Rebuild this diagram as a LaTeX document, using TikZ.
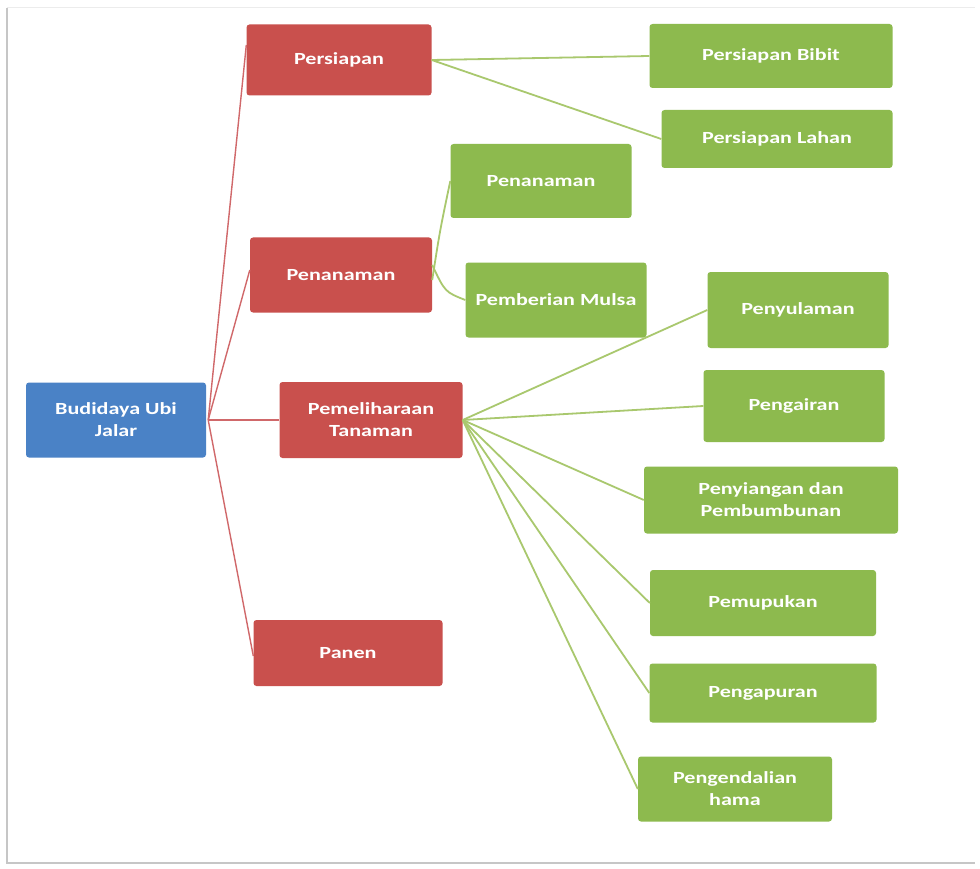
\documentclass[tikz,border=0pt]{standalone}
\usepackage{fontspec}
\setmainfont{Carlito}[FakeStretch=1.3]
\definecolor{ofred}{HTML}{C9504D}
\definecolor{ofgreen}{HTML}{8DBA4E}
\definecolor{ofblue}{HTML}{4A82C6}
\definecolor{redline}{HTML}{D0686A}
\definecolor{greenline}{HTML}{A9C86E}
\begin{document}
\begin{tikzpicture}[x=1pt,y=-1pt,
  box/.style={rectangle, rounded corners=3pt, text=white, align=center, inner sep=2pt, font=\fontsize{17}{22}\selectfont\bfseries},
  rbox/.style={box, fill=ofred},
  gbox/.style={box, fill=ofgreen},
  bbox/.style={box, fill=ofblue},
  rl/.style={draw=redline, line width=1.4pt},
  gl/.style={draw=greenline, line width=1.8pt}]
\useasboundingbox (0,0) rectangle (980,869);
\fill[white] (0,0) rectangle (980,869);
\draw[gray!45, line width=2pt] (7,8) -- (7,863) -- (975,863);
\draw[gray!15, line width=1pt] (7,8) -- (975,8);
% nodes
\node[bbox, minimum width=180, minimum height=75] (root) at (116,420) {Budidaya Ubi\\Jalar};
\node[rbox, minimum width=185, minimum height=71] (per) at (339,60) {Persiapan};
\node[rbox, minimum width=182, minimum height=75] (pen) at (341,275) {Penanaman};
\node[rbox, minimum width=183, minimum height=76] (pem) at (371,420) {Pemeliharaan\\Tanaman};
\node[rbox, minimum width=189, minimum height=66] (pan) at (348,653) {Panen};
\node[gbox, minimum width=243, minimum height=64] (bib) at (771,56) {Persiapan Bibit};
\node[gbox, minimum width=231, minimum height=58] (lah) at (777,139) {Persiapan Lahan};
\node[gbox, minimum width=181, minimum height=74] (tan) at (541,181) {Penanaman};
\node[gbox, minimum width=181, minimum height=75] (mul) at (556,300) {Pemberian Mulsa};
\node[gbox, minimum width=181, minimum height=76] (sul) at (798,310) {Penyulaman};
\node[gbox, minimum width=181, minimum height=72] (air) at (794,406) {Pengairan};
\node[gbox, minimum width=254, minimum height=67] (sia) at (771,500) {Penyiangan dan\\Pembumbunan};
\node[gbox, minimum width=226, minimum height=66] (pup) at (763,603) {Pemupukan};
\node[gbox, minimum width=227, minimum height=59] (apu) at (763,693) {Pengapuran};
\node[gbox, minimum width=194, minimum height=65] (ham) at (735,789) {Pengendalian\\hama};
% connectors
\coordinate (rootE) at ([xshift=2pt]root.east);
\draw[rl] (rootE) -- ([yshift=15pt]per.west);
\draw[rl] (rootE) -- ([yshift=5pt]pen.west);
\draw[rl] (rootE) -- (pem.west);
\draw[rl] (rootE) -- ([yshift=-3pt]pan.west);
\draw[gl] (per.east) -- (bib.west);
\draw[gl] (per.east) -- (lah.west);
\draw[gl] ([yshift=-5pt]pen.east) .. controls (440,230) .. (tan.west);
\draw[gl] ([yshift=10pt]pen.east) .. controls (445,292) .. (mul.west);
\foreach \t in {sul,air,sia,pup,apu,ham}
  \draw[gl] (pem.east) -- (\t.west);
\end{tikzpicture}
\end{document}
